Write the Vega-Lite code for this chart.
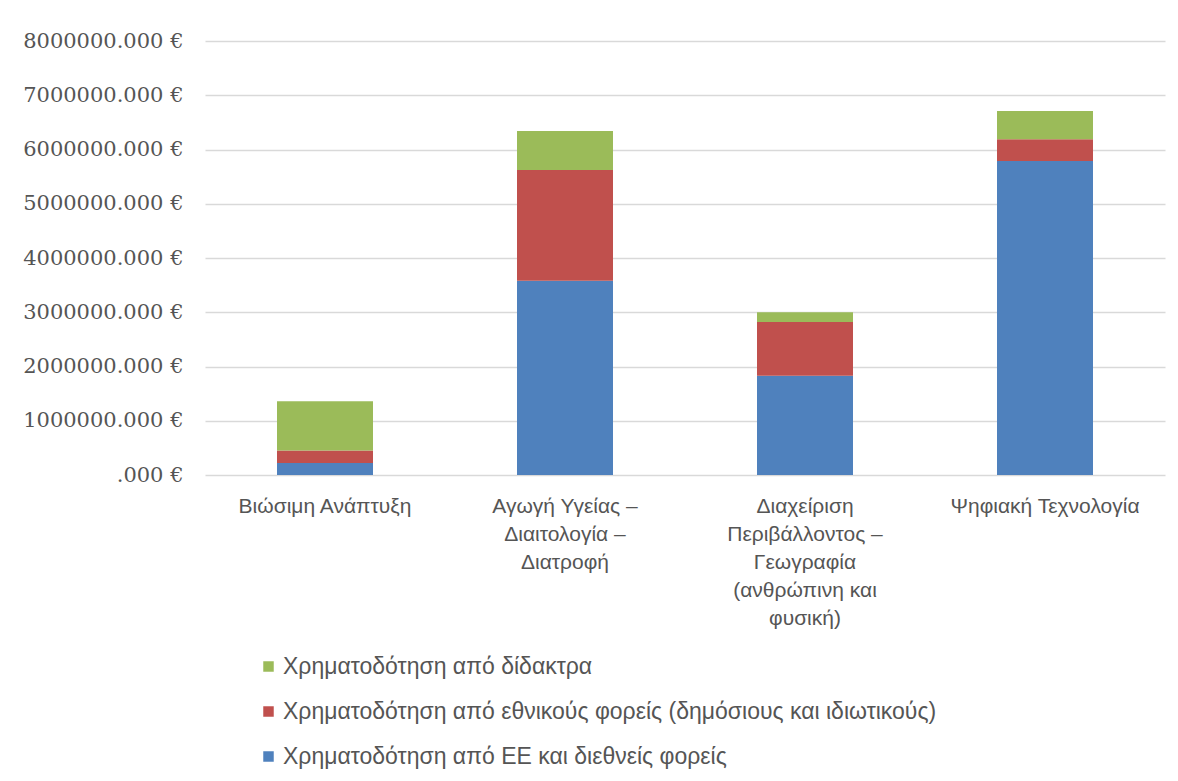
{
  "$schema": "https://vega.github.io/schema/vega-lite/v6.json",
  "width": 960,
  "height": 434,
  "autosize": "none",
  "padding": {"left": 205, "top": 41, "right": 13, "bottom": 306},
  "background": "white",
  "config": {"view": {"stroke": null}},
  "data": {
    "values": [
      {"area": "Βιώσιμη Ανάπτυξη", "series": "Χρηματοδότηση από ΕΕ και διεθνείς φορείς", "amount": 220000},
      {"area": "Βιώσιμη Ανάπτυξη", "series": "Χρηματοδότηση από εθνικούς φορείς (δημόσιους και ιδιωτικούς)", "amount": 230000},
      {"area": "Βιώσιμη Ανάπτυξη", "series": "Χρηματοδότηση από δίδακτρα", "amount": 910000},
      {"area": "Αγωγή Υγείας –|Διαιτολογία –|Διατροφή", "series": "Χρηματοδότηση από ΕΕ και διεθνείς φορείς", "amount": 3580000},
      {"area": "Αγωγή Υγείας –|Διαιτολογία –|Διατροφή", "series": "Χρηματοδότηση από εθνικούς φορείς (δημόσιους και ιδιωτικούς)", "amount": 2040000},
      {"area": "Αγωγή Υγείας –|Διαιτολογία –|Διατροφή", "series": "Χρηματοδότηση από δίδακτρα", "amount": 720000},
      {"area": "Διαχείριση|Περιβάλλοντος –|Γεωγραφία|(ανθρώπινη και|φυσική)", "series": "Χρηματοδότηση από ΕΕ και διεθνείς φορείς", "amount": 1830000},
      {"area": "Διαχείριση|Περιβάλλοντος –|Γεωγραφία|(ανθρώπινη και|φυσική)", "series": "Χρηματοδότηση από εθνικούς φορείς (δημόσιους και ιδιωτικούς)", "amount": 990000},
      {"area": "Διαχείριση|Περιβάλλοντος –|Γεωγραφία|(ανθρώπινη και|φυσική)", "series": "Χρηματοδότηση από δίδακτρα", "amount": 180000},
      {"area": "Ψηφιακή Τεχνολογία", "series": "Χρηματοδότηση από ΕΕ και διεθνείς φορείς", "amount": 5790000},
      {"area": "Ψηφιακή Τεχνολογία", "series": "Χρηματοδότηση από εθνικούς φορείς (δημόσιους και ιδιωτικούς)", "amount": 400000},
      {"area": "Ψηφιακή Τεχνολογία", "series": "Χρηματοδότηση από δίδακτρα", "amount": 520000}
    ]
  },
  "transform": [
    {"calculate": "indexof(['Χρηματοδότηση από ΕΕ και διεθνείς φορείς', 'Χρηματοδότηση από εθνικούς φορείς (δημόσιους και ιδιωτικούς)', 'Χρηματοδότηση από δίδακτρα'], datum.series)", "as": "stackOrder"}
  ],
  "mark": {"type": "bar"},
  "encoding": {
    "x": {
      "field": "area",
      "type": "nominal",
      "sort": null,
      "scale": {"paddingInner": 0.6, "paddingOuter": 0.3},
      "axis": {
        "title": null,
        "labelAngle": 0,
        "labelExpr": "split(datum.value, '|')",
        "labelFont": "'Liberation Sans', sans-serif",
        "labelFontSize": 21,
        "labelColor": "#555555",
        "labelLineHeight": 28,
        "labelBaseline": "top",
        "labelPadding": 20,
        "ticks": false,
        "domain": false,
        "labelLimit": 300
      }
    },
    "y": {
      "field": "amount",
      "type": "quantitative",
      "stack": "zero",
      "scale": {"domain": [0, 8000000], "nice": false},
      "axis": {
        "title": null,
        "values": [0, 1000000, 2000000, 3000000, 4000000, 5000000, 6000000, 7000000, 8000000],
        "labelExpr": "datum.value == 0 ? '.000 €' : format(datum.value, 'd') + '.000 €'",
        "labelFont": "'DejaVu Serif', serif",
        "labelFontSize": 21,
        "labelColor": "#555555",
        "labelPadding": 22,
        "ticks": false,
        "domain": false,
        "gridColor": "#d9d9d9",
        "gridWidth": 1.5
      }
    },
    "color": {
      "field": "series",
      "type": "nominal",
      "scale": {
        "domain": ["Χρηματοδότηση από δίδακτρα", "Χρηματοδότηση από εθνικούς φορείς (δημόσιους και ιδιωτικούς)", "Χρηματοδότηση από ΕΕ και διεθνείς φορείς"],
        "range": ["#9BBB59", "#C0504D", "#4F81BD"]
      },
      "legend": {
        "title": null,
        "orient": "none",
        "legendX": 52,
        "legendY": 614,
        "symbolType": "square",
        "symbolSize": 110,
        "symbolStrokeWidth": 0,
        "labelFont": "'Liberation Sans', sans-serif",
        "labelFontSize": 23,
        "labelColor": "#555555",
        "labelLimit": 900,
        "rowPadding": 21,
        "labelOffset": 3
      }
    },
    "order": {"field": "stackOrder", "type": "quantitative"}
  }
}
